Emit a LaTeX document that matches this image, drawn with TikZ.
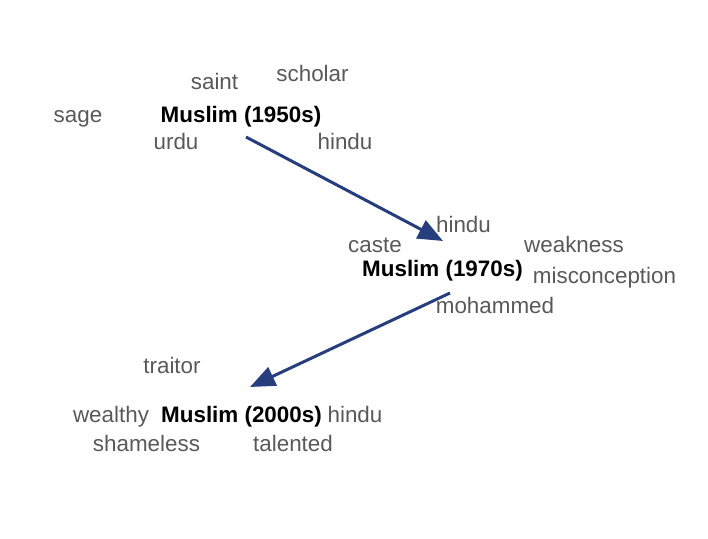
\documentclass[tikz,border=0pt]{standalone}
\usepackage{fontspec}
\setmainfont{Liberation Sans}
\usetikzlibrary{arrows.meta}
\definecolor{wordgray}{RGB}{89,89,89}
\definecolor{arrowblue}{RGB}{38,62,126}
\begin{document}
\begin{tikzpicture}[x=1pt,y=-1pt,
  word/.style={anchor=base,inner sep=0pt,text=wordgray,font=\fontsize{22.4}{26}\selectfont},
  era/.style={anchor=base,inner sep=0pt,text=black,font=\fontsize{22.4}{26}\selectfont\bfseries},
  flow/.style={draw=arrowblue,line width=3pt,-{Triangle[length=25pt,width=20pt]}}]
\useasboundingbox (0,0) rectangle (708,538);
% 1950s
\node[era]  (m50) at (241,122.5) {Muslim (1950s)};
\node[word] (saint) at (214.5,89.5) {saint};
\node[word] (scholar) at (312.5,81.5) {scholar};
\node[word] (sage) at (78,122) {sage};
\node[word] (urdu) at (176,149.5) {urdu};
\node[word] (hindua) at (345,149.5) {hindu};
% 1970s
\node[era]  (m70) at (442.5,276.5) {Muslim (1970s)};
\node[word] (hindub) at (463.5,232.5) {hindu};
\node[word] (caste) at (375,252.5) {caste};
\node[word] (weakness) at (574,252.5) {weakness};
\node[word] (misc) at (604.5,283.5) {misconception};
\node[word] (moh) at (495,313.5) {mohammed};
% 2000s
\node[era]  (m00) at (241.5,422.5) {Muslim (2000s)};
\node[word] (traitor) at (172,373.5) {traitor};
\node[word] (wealthy) at (111,422.5) {wealthy};
\node[word] (hinduc) at (355,422.5) {hindu};
\node[word] (shameless) at (146.5,451.5) {shameless};
\node[word] (talented) at (293,451.5) {talented};
% arrows
\coordinate (a1s) at (246,137);
\coordinate (a1e) at (443,241);
\coordinate (a2s) at (450,293);
\coordinate (a2e) at (250,387);
\draw[flow] (a1s) -- (a1e);
\draw[flow] (a2s) -- (a2e);
\end{tikzpicture}
\end{document}
